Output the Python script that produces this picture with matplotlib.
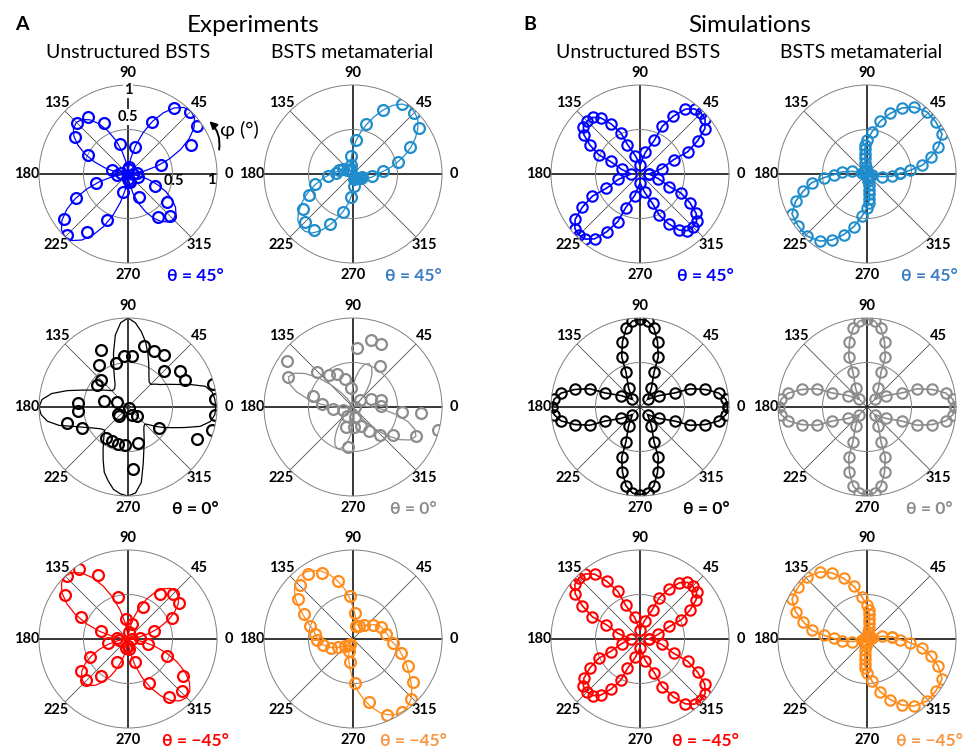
import numpy as np
import matplotlib
matplotlib.use('Agg')
import matplotlib.pyplot as plt

plt.rcParams['font.family'] = ['Lato', 'DejaVu Sans']

# ---------------- data (angles in degrees, normalised intensity) ----------------
fit_phi = np.arange(0, 360, 5)
exp_phi_grid = np.arange(5, 360, 10)

# Experiments, unstructured BSTS, theta = 45
exp_unstr_p45_r = [0.10, 0.38, 0.78, 0.95, 0.99, 0.91, 0.65, 0.31, 0.08,
                   0.06, 0.345, 0.63, 0.78, 0.81, 0.73, 0.50, 0.19, 0.08,
                   0.12, 0.37, 0.64, 0.88, 0.97, 0.80, 0.57, 0.21, 0.06,
                   0.08, 0.09, 0.28, 0.59, 0.66, 0.54, 0.33, 0.12, 0.06]
exp_unstr_p45_fit = [0, 0.061, 0.180, 0.330, 0.493, 0.653, 0.794, 0.906, 0.976, 1.0, 0.976, 0.906, 0.794, 0.653, 0.493, 0.330, 0.180, 0.061,
                     0, 0.050, 0.148, 0.271, 0.404, 0.535, 0.651, 0.743, 0.800, 0.82, 0.800, 0.743, 0.651, 0.535, 0.404, 0.271, 0.148, 0.050,
                     0, 0.061, 0.180, 0.330, 0.493, 0.653, 0.794, 0.906, 0.976, 1.0, 0.976, 0.906, 0.794, 0.653, 0.493, 0.330, 0.180, 0.061,
                     0, 0.044, 0.130, 0.238, 0.355, 0.470, 0.572, 0.652, 0.703, 0.72, 0.703, 0.652, 0.572, 0.470, 0.355, 0.238, 0.130, 0.044]

# Experiments, BSTS metamaterial, theta = 45
exp_meta_p45_r = [0.34, 0.52, 0.71, 0.90, 0.97, 0.96, 0.79, 0.58, 0.385,
                  0.20, 0.10, 0.06, 0.05, 0.06, 0.08, 0.12, 0.16, 0.19,
                  0.28, 0.44, 0.55, 0.685, 0.77, 0.77, 0.62, 0.44, 0.26,
                  0.13, 0.06, 0.05, 0.05, 0.06, 0.08, 0.10, 0.11, 0.21]
exp_meta_p45_fit = [0.27, 0.34, 0.43, 0.52, 0.62, 0.72, 0.81, 0.89, 0.95, 0.98, 0.99, 0.96, 0.89, 0.79, 0.68, 0.57, 0.47, 0.37,
                    0.28, 0.20, 0.13, 0.08, 0.05, 0.03, 0.02, 0.02, 0.02, 0.03, 0.04, 0.05, 0.07, 0.09, 0.11, 0.14, 0.17, 0.21,
                    0.25, 0.30, 0.36, 0.43, 0.51, 0.59, 0.67, 0.75, 0.81, 0.84, 0.84, 0.81, 0.74, 0.64, 0.54, 0.44, 0.35, 0.26,
                    0.18, 0.12, 0.07, 0.04, 0.02, 0.02, 0.02, 0.02, 0.03, 0.04, 0.06, 0.08, 0.10, 0.12, 0.15, 0.18, 0.21, 0.24]

# Experiments, unstructured BSTS, theta = 0
exp_unstr_0_r = [0.98, 0.99, 0.71, 0.71, 0.57, 0.71, 0.70, 0.71, 0.57,
                 0.57, 0.51, 0.71, 0.57, 0.43, 0.43, 0.14, 0.28, 0.56,
                 0.56, 0.71, 0.57, 0.14, 0.14, 0.43, 0.42, 0.43, 0.43,
                 0.70, 0.42, 0.10, 0.02, 0.14, 0.42, 0.85, 0.98, 0.98]
exp_unstr_0_fit = [0.985, 0.98, 0.96, 0.90, 0.74, 0.60, 0.51, 0.44, 0.40, 0.36, 0.37, 0.41, 0.47, 0.55, 0.65, 0.76, 0.86, 0.95,
                   1.0, 0.95, 0.82, 0.63, 0.47, 0.36, 0.29, 0.26, 0.25, 0.26, 0.29, 0.33, 0.38, 0.45, 0.555, 0.71, 0.87, 0.97,
                   1.0, 0.98, 0.92, 0.80, 0.64, 0.54, 0.47, 0.42, 0.385, 0.37, 0.42, 0.48, 0.56, 0.66, 0.78, 0.86, 0.94, 0.98,
                   1.0, 0.97, 0.86, 0.66, 0.52, 0.43, 0.36, 0.31, 0.28, 0.27, 0.31, 0.38, 0.46, 0.55, 0.675, 0.84, 0.94, 0.98]

# Experiments, BSTS metamaterial, theta = 0
exp_meta_0_phi = [0, 3, 14, 25, 45, 56, 66, 75, 86, 97, 106, 116, 126, 136, 145, 155, 165, 175,
                  186, 196, 235, 250, 263, 273, 280, 292, 304, 314, 325, 335, 345, 354, 355]
exp_meta_0_r = [0.02, 0.32, 0.33, 0.22, 0.105, 0.55, 0.78, 0.78, 0.67, 0.22, 0.33, 0.41, 0.45, 0.565, 0.91, 0.80, 0.46, 0.345,
                0.23, 0.12, 0.12, 0.235, 0.45, 0.22, 0.11, 0.23, 0.33, 0.44, 0.55, 0.78, 0.985, 0.555, 0.77]
exp_meta_0_fit = [0.218, 0.117, 0.047, 0.016, 0.005, 0.005, 0.010, 0.031, 0.078, 0.146, 0.234, 0.333, 0.426, 0.494, 0.52, 0.494, 0.426, 0.333,
                  0.234, 0.146, 0.078, 0.031, 0.010, 0.016, 0.048, 0.12, 0.224, 0.36, 0.512, 0.656, 0.76, 0.80, 0.76, 0.656, 0.512, 0.36,
                  0.224, 0.12, 0.048, 0.016, 0.005, 0.005, 0.01, 0.03, 0.075, 0.14, 0.225, 0.32, 0.41, 0.475, 0.50, 0.475, 0.41, 0.32,
                  0.225, 0.14, 0.075, 0.03, 0.01, 0.016, 0.047, 0.117, 0.218, 0.351, 0.50, 0.64, 0.741, 0.78, 0.741, 0.64, 0.50, 0.351]

# Experiments, unstructured BSTS, theta = -45
exp_unstr_m45_phi = [5, 17, 26, 35, 45, 55, 65, 76, 85, 95, 104, 115, 125, 134, 145, 155, 164, 175,
                     185, 192, 205, 214, 224, 234, 244, 256, 266, 276, 286, 296, 305, 316, 326, 336, 347, 355]
exp_unstr_m45_r = [0.14, 0.305, 0.55, 0.70, 0.715, 0.62, 0.40, 0.17, 0.08, 0.23, 0.485, 0.79, 0.96, 0.98, 0.87, 0.58, 0.32, 0.12,
                   0.10, 0.225, 0.47, 0.64, 0.66, 0.52, 0.29, 0.10, 0.08, 0.11, 0.27, 0.55, 0.795, 0.84, 0.74, 0.48, 0.23, 0.05]
exp_unstr_m45_fit = [0, 0.046, 0.137, 0.251, 0.375, 0.496, 0.603, 0.689, 0.742, 0.76, 0.742, 0.689, 0.603, 0.496, 0.375, 0.251, 0.137, 0.046,
                     0, 0.061, 0.180, 0.330, 0.493, 0.653, 0.794, 0.906, 0.976, 1.0, 0.976, 0.906, 0.794, 0.653, 0.493, 0.330, 0.180, 0.061,
                     0, 0.043, 0.126, 0.231, 0.345, 0.457, 0.556, 0.634, 0.683, 0.70, 0.683, 0.634, 0.556, 0.457, 0.345, 0.231, 0.126, 0.043,
                     0, 0.057, 0.167, 0.307, 0.458, 0.607, 0.738, 0.843, 0.908, 0.93, 0.908, 0.843, 0.738, 0.607, 0.458, 0.307, 0.167, 0.057]

# Experiments, BSTS metamaterial, theta = -45
exp_meta_m45_phi = [9, 23, 35, 51, 65, 78, 86, 94.5, 105, 115, 125, 134, 144, 153, 163, 172, 182, 192, 202, 210,
                    222, 231, 240, 252, 263, 272, 284, 294, 303.5, 314, 324, 333.5, 343.5, 354]
exp_meta_m45_r = [0.37, 0.345, 0.28, 0.20, 0.16, 0.15, 0.295, 0.48, 0.67, 0.815, 0.89, 0.85, 0.76, 0.62, 0.50, 0.43, 0.40, 0.34, 0.27, 0.19,
                  0.12, 0.08, 0.06, 0.14, 0.26, 0.50, 0.73, 0.93, 0.99, 0.94, 0.83, 0.69, 0.56, 0.45]
exp_meta_m45_fit = [0.41, 0.40, 0.38, 0.365, 0.35, 0.34, 0.31, 0.28, 0.25, 0.22, 0.20, 0.18, 0.17, 0.16, 0.16, 0.17, 0.20, 0.27,
                    0.36, 0.47, 0.58, 0.68, 0.77, 0.84, 0.89, 0.92, 0.93, 0.91, 0.86, 0.79, 0.70, 0.61, 0.54, 0.48, 0.44, 0.42,
                    0.40, 0.38, 0.35, 0.31, 0.27, 0.23, 0.19, 0.15, 0.12, 0.08, 0.05, 0.04, 0.05, 0.08, 0.13, 0.19, 0.26, 0.35,
                    0.47, 0.58, 0.69, 0.79, 0.88, 0.94, 0.98, 0.99, 0.97, 0.93, 0.86, 0.79, 0.72, 0.66, 0.60, 0.55, 0.50, 0.45]

# Simulations, unstructured BSTS, theta = +45 / -45 (same angles)
sim_unstr_phi = [0, 14, 23, 25, 30, 35, 40, 45, 50, 55, 60, 65, 67, 76,
                 90, 104, 113, 115, 120, 125, 130, 135, 140, 145, 150, 155, 157, 166,
                 180, 194, 203, 205, 210, 215, 220, 225, 230, 235, 240, 245, 247, 256,
                 270, 284, 293, 295, 300, 305, 310, 315, 320, 325, 330, 335, 337, 346]
sim_unstr_p45_r = [0.10, 0.25, 0.41, 0.59, 0.75, 0.89, 0.955, 0.97, 0.955, 0.89, 0.75, 0.59, 0.41, 0.25,
                   0.10, 0.21, 0.36, 0.51, 0.65, 0.77, 0.83, 0.84, 0.83, 0.77, 0.65, 0.51, 0.36, 0.21,
                   0.10, 0.25, 0.41, 0.59, 0.75, 0.89, 0.955, 0.97, 0.955, 0.89, 0.75, 0.59, 0.41, 0.25,
                   0.10, 0.21, 0.36, 0.51, 0.65, 0.77, 0.83, 0.84, 0.83, 0.77, 0.65, 0.51, 0.36, 0.21]
sim_unstr_m45_r = [0.10, 0.21, 0.36, 0.51, 0.65, 0.77, 0.83, 0.84, 0.83, 0.77, 0.65, 0.51, 0.36, 0.21,
                   0.10, 0.25, 0.41, 0.59, 0.75, 0.89, 0.955, 0.97, 0.955, 0.89, 0.75, 0.59, 0.41, 0.25,
                   0.10, 0.21, 0.36, 0.51, 0.65, 0.77, 0.83, 0.84, 0.83, 0.77, 0.65, 0.51, 0.36, 0.21,
                   0.10, 0.25, 0.41, 0.59, 0.75, 0.89, 0.955, 0.97, 0.955, 0.89, 0.75, 0.59, 0.41, 0.25]

# Simulations, theta = 0 (unstructured and metamaterial coincide)
sim_0_phi = [0, 5, 10, 15, 20, 22, 31, 45, 59, 68, 70, 75, 80, 85,
             90, 95, 100, 105, 110, 112, 121, 135, 149, 158, 160, 165, 170, 175,
             180, 185, 190, 195, 200, 202, 211, 225, 239, 248, 250, 255, 260, 265,
             270, 275, 280, 285, 290, 292, 301, 315, 329, 338, 340, 345, 350, 355]
sim_0_r = [0.985, 0.97, 0.90, 0.76, 0.60, 0.42, 0.25, 0.12, 0.25, 0.42, 0.60, 0.76, 0.90, 0.97,
           0.985, 0.97, 0.90, 0.76, 0.60, 0.42, 0.25, 0.12, 0.25, 0.42, 0.60, 0.76, 0.90, 0.97,
           0.985, 0.97, 0.90, 0.76, 0.60, 0.42, 0.25, 0.12, 0.25, 0.42, 0.60, 0.76, 0.90, 0.97,
           0.985, 0.97, 0.90, 0.76, 0.60, 0.42, 0.25, 0.12, 0.25, 0.42, 0.60, 0.76, 0.90, 0.97]

# Simulations, BSTS metamaterial, theta = +45
sim_meta_p45_phi = [1, 5, 9, 15, 21, 28, 37, 46, 55, 62, 69, 76, 83, 90, 93, 95, 96, 97, 98, 99,
                    105, 120, 135, 150, 165,
                    170, 175, 181, 185, 189, 195, 201, 208, 217, 226, 235, 242, 249, 256, 263, 270, 273, 275, 276, 277, 278, 279,
                    285, 300, 315, 330, 345, 350, 355]
sim_meta_p45_r = [0.375, 0.49, 0.63, 0.74, 0.86, 0.955, 0.97, 0.97, 0.92, 0.84, 0.73, 0.61, 0.48, 0.38, 0.33, 0.28, 0.23, 0.18, 0.13, 0.08,
                  0.05, 0.04, 0.03, 0.04, 0.06,
                  0.17, 0.28, 0.375, 0.49, 0.63, 0.74, 0.86, 0.955, 0.97, 0.97, 0.92, 0.84, 0.73, 0.61, 0.48, 0.38, 0.33, 0.28, 0.23, 0.18, 0.13, 0.08,
                  0.05, 0.04, 0.03, 0.04, 0.06, 0.17, 0.28]

# Simulations, BSTS metamaterial, theta = -45
sim_meta_m45_phi = [5, 10, 15, 30, 45, 60, 75, 81, 82, 83, 84, 85, 87,
                    90, 97, 104, 111, 118, 125, 134, 143, 152, 159, 165, 171, 175, 179,
                    185, 190, 195, 210, 225, 240, 255, 261, 262, 263, 264, 265, 267,
                    270, 277, 284, 291, 298, 305, 314, 323, 332, 339, 345, 351, 355, 359]
sim_meta_m45_r = [0.28, 0.17, 0.06, 0.04, 0.03, 0.04, 0.05, 0.08, 0.13, 0.18, 0.23, 0.28, 0.33,
                  0.38, 0.48, 0.61, 0.73, 0.84, 0.92, 0.97, 0.97, 0.955, 0.86, 0.74, 0.63, 0.49, 0.375,
                  0.28, 0.17, 0.06, 0.04, 0.03, 0.04, 0.05, 0.08, 0.13, 0.18, 0.23, 0.28, 0.33,
                  0.38, 0.48, 0.61, 0.73, 0.84, 0.92, 0.97, 0.97, 0.955, 0.86, 0.74, 0.63, 0.49, 0.375]

# colours
BLUE = '#0000ff'
SKY = '#1f8ccc'
SKY_TXT = '#3a7dc2'
BLACK = '#000000'
GRAY = '#8c8c8c'
RED = '#ff0000'
ORANGE = '#ff8c1a'
ORANGE_TXT = '#f79646'

W, H = 963, 750
R = 89
col_cx = [128, 353, 640, 867]
row_cy = [174, 407, 639]


def make_ax(fig, row, col):
    cx, cy = col_cx[col], row_cy[row]
    ax = fig.add_axes([(cx - R) / W, (H - cy - R) / H, 2 * R / W, 2 * R / H], projection='polar')
    ax.set_ylim(0, 1)
    ax.set_thetagrids(range(0, 360, 45), [str(a) for a in range(0, 360, 45)],
                      fontsize=10.5, fontweight='bold')
    ax.set_rgrids([0.5], labels=[''])
    ax.tick_params(axis='x', pad=-1.8)
    for i, gl in enumerate(ax.xaxis.get_gridlines()):
        if i % 2 == 0:
            gl.set_color('black')
            gl.set_linewidth(1.1)
        else:
            gl.set_color('#505050')
            gl.set_linewidth(0.6)
        gl.set_linestyle('-')
    for gl in ax.yaxis.get_gridlines():
        gl.set_color('#808080')
        gl.set_linewidth(0.7)
        gl.set_linestyle('-')
    ax.spines['polar'].set_color('#808080')
    ax.spines['polar'].set_linewidth(0.7)
    ax.set_axisbelow(True)
    return ax


def closed(phi, r):
    phi = np.append(np.asarray(phi, float), phi[0] + 360)
    r = np.append(np.asarray(r, float), r[0])
    return np.deg2rad(phi), r


def plot_exp(ax, phi, r, fit, color):
    t, f = closed(fit_phi, fit)
    ax.plot(t, f, color=color, lw=0.9)
    ax.plot(np.deg2rad(phi), r, 'o', ms=7.8, mfc='none', mec=color, mew=1.6)


def plot_sim(ax, phi, r, color):
    t, rr = closed(phi, r)
    ax.plot(t, rr, '-o', color=color, lw=1.2, ms=7.5, mfc='none', mec=color, mew=1.5)


def theta_label(ax, text, color, x):
    ax.text(x, -0.075, text, transform=ax.transAxes, ha='center', va='center',
            fontsize=12.5, fontweight='bold', color=color)


fig = plt.figure(figsize=(W / 100, H / 100), dpi=100)

panels = [
    (0, 0, 'exp', (exp_phi_grid, exp_unstr_p45_r, exp_unstr_p45_fit), BLUE, 'θ = 45°', BLUE),
    (0, 1, 'exp', (exp_phi_grid, exp_meta_p45_r, exp_meta_p45_fit), SKY, 'θ = 45°', SKY_TXT),
    (1, 0, 'exp', (exp_phi_grid, exp_unstr_0_r, exp_unstr_0_fit), BLACK, 'θ = 0°', BLACK),
    (1, 1, 'exp', (exp_meta_0_phi, exp_meta_0_r, exp_meta_0_fit), GRAY, 'θ = 0°', GRAY),
    (2, 0, 'exp', (exp_unstr_m45_phi, exp_unstr_m45_r, exp_unstr_m45_fit), RED, 'θ = −45°', RED),
    (2, 1, 'exp', (exp_meta_m45_phi, exp_meta_m45_r, exp_meta_m45_fit), ORANGE, 'θ = −45°', ORANGE_TXT),
    (0, 2, 'sim', (sim_unstr_phi, sim_unstr_p45_r), BLUE, 'θ = 45°', BLUE),
    (0, 3, 'sim', (sim_meta_p45_phi, sim_meta_p45_r), SKY, 'θ = 45°', SKY_TXT),
    (1, 2, 'sim', (sim_0_phi, sim_0_r), BLACK, 'θ = 0°', BLACK),
    (1, 3, 'sim', (sim_0_phi, sim_0_r), GRAY, 'θ = 0°', GRAY),
    (2, 2, 'sim', (sim_unstr_phi, sim_unstr_m45_r), RED, 'θ = −45°', RED),
    (2, 3, 'sim', (sim_meta_m45_phi, sim_meta_m45_r), ORANGE, 'θ = −45°', ORANGE_TXT),
]
label_x = [0.88, 0.84, 0.87, 0.85]

axes = {}
for row, col, kind, data, color, lab, lab_color in panels:
    ax = make_ax(fig, row, col)
    axes[(row, col)] = ax
    if kind == 'exp':
        plot_exp(ax, *data, color)
    else:
        plot_sim(ax, *data, color)
    theta_label(ax, lab, lab_color, label_x[col])

# radial labels and angle arrow on the first panel
ax0 = axes[(0, 0)]
bb = dict(facecolor='white', edgecolor='none', pad=0.5)
ax0.text(np.deg2rad(90), 0.945, '1', ha='center', va='center', fontsize=10.5, fontweight='bold', bbox=bb)
ax0.text(np.deg2rad(90), 0.64, '0.5', ha='center', va='center', fontsize=10.5, fontweight='bold', bbox=bb)
ax0.text(np.deg2rad(-8.7), 0.523, '0.5', ha='center', va='center', fontsize=10.5, fontweight='bold')
ax0.text(np.deg2rad(-4), 0.935, '1', ha='center', va='center', fontsize=10.5, fontweight='bold')
ax0.annotate('', xy=(np.deg2rad(33), 1.09), xytext=(np.deg2rad(15), 1.06),
             arrowprops=dict(arrowstyle='-|>', color='black', lw=1.4, mutation_scale=11,
                             shrinkA=0, shrinkB=0, connectionstyle='arc3,rad=0.25'),
             annotation_clip=False)
ax0.text(np.deg2rad(21.4), 1.35, 'φ (°)', ha='center', va='center', fontsize=14.5)

# titles
fig.text(253 / W, 1 - 25 / H, 'Experiments', ha='center', va='center', fontsize=17.5)
fig.text(750 / W, 1 - 25 / H, 'Simulations', ha='center', va='center', fontsize=17.5)
fig.text(22 / W, 1 - 24 / H, 'A', ha='center', va='center', fontsize=14, fontweight='bold')
fig.text(530 / W, 1 - 24 / H, 'B', ha='center', va='center', fontsize=14, fontweight='bold')
for x, t in zip([128, 352, 638, 861], ['Unstructured BSTS', 'BSTS metamaterial'] * 2):
    fig.text(x / W, 1 - 52 / H, t, ha='center', va='center', fontsize=14)

fig.savefig('out.png', dpi=100)
